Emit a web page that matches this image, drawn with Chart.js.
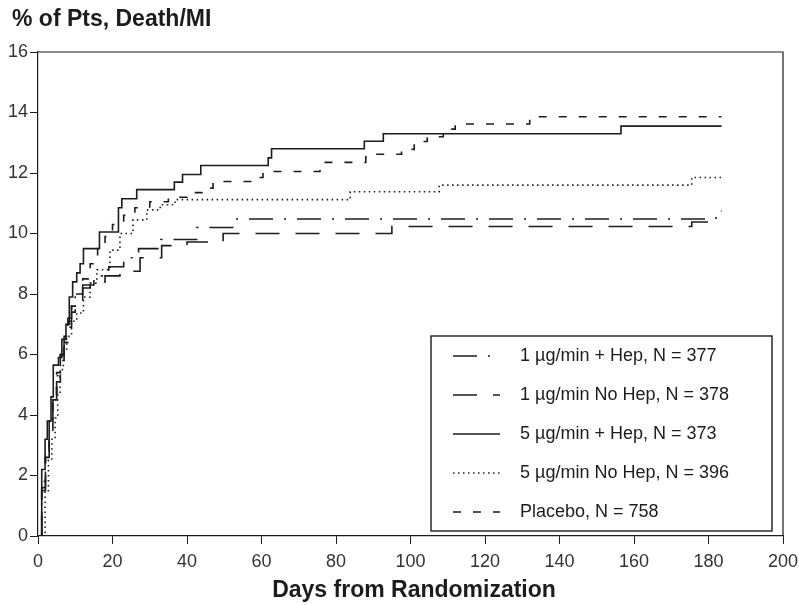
<!DOCTYPE html>
<html>
<head>
<meta charset="utf-8">
<script src="https://cdn.jsdelivr.net/npm/chart.js@4.4.1/dist/chart.umd.min.js"></script>
<style>
  html, body { margin: 0; padding: 0; background: #fff; }
  #chart { display: block; }
</style>
</head>
<body>
<canvas id="chart" width="799" height="605"></canvas>
<script>
// Kaplan-Meier style event curves, % of patients with death/MI by day
const xTicks = [0, 20, 40, 60, 80, 100, 120, 140, 160, 180, 200];
const yTicks = [0, 2, 4, 6, 8, 10, 12, 14, 16];

const labels = [
  '1 \u00b5g/min + Hep, N = 377',
  '1 \u00b5g/min No Hep, N = 378',
  '5 \u00b5g/min + Hep, N = 373',
  '5 \u00b5g/min No Hep, N = 396',
  'Placebo, N = 758',
];

const lowHepDays = [0, 1, 2, 3, 4, 5, 6, 7, 8, 9, 10, 12, 15, 19, 23, 27, 33, 42.6, 52.9, 182, 183.5];
const lowHepPct  = [0, 1.5, 2.8, 3.7, 4.5, 5.3, 6.0, 6.6, 7.2, 7.6, 8.0, 8.3, 8.6, 8.9, 9.2, 9.5, 9.8, 10.2, 10.48, 10.75, 10.75];

const lowNoHepDays = [0, 1, 2, 3, 4, 5, 6, 7, 8, 9, 10, 12, 14, 18, 22, 27.4, 33.2, 40, 49.7, 95, 175.5, 183.5];
const lowNoHepPct  = [0, 1.6, 2.6, 3.5, 4.3, 5.1, 5.8, 6.4, 6.9, 7.4, 7.8, 8.2, 8.4, 8.6, 8.75, 9.2, 9.6, 9.72, 10.0, 10.23, 10.38, 10.38];

const highHepDays = [0, 1, 1.9, 2.5, 3.5, 4.1, 5.5, 6.4, 7.5, 8.4, 9.3, 10.4, 11.3, 12.2, 16.5, 21.6, 22.5, 26.5, 36.6, 38.8, 43.7, 61.8, 62.7, 87.6, 92.7, 156.5, 183.5];
const highHepPct  = [0, 2.2, 3.2, 3.8, 4.6, 5.65, 5.9, 6.5, 7.0, 7.9, 8.4, 8.7, 9.0, 9.5, 10.05, 10.85, 11.15, 11.45, 11.7, 11.95, 12.25, 12.5, 12.8, 13.05, 13.3, 13.55, 13.55];

const highNoHepDays = [0, 1.9, 2.8, 3.7, 4.6, 5.3, 5.9, 6.8, 7.7, 9.0, 10.4, 12.2, 14, 15.8, 19.3, 22, 25.5, 29.2, 32.8, 36.8, 83.8, 107.7, 175.5, 183.5];
const highNoHepPct  = [0, 1.5, 2.5, 3.2, 3.9, 4.7, 5.5, 6.15, 6.6, 7.1, 7.37, 7.9, 8.36, 8.8, 9.45, 10.0, 10.45, 10.78, 10.95, 11.12, 11.38, 11.6, 11.85, 11.85];

const placeboDays = [0, 1, 2, 3, 4, 5, 6, 7, 8, 9, 10, 12, 14, 16, 18, 20, 23, 26, 30, 35, 40, 44, 47, 57.5, 60.4, 75.7, 88, 97.6, 101, 104.5, 108.8, 112, 132, 183.5];
const placeboPct  = [0, 1.8, 2.8, 3.8, 4.6, 5.4, 6.0, 6.6, 7.1, 7.6, 8.0, 8.5, 9.0, 9.5, 9.9, 10.3, 10.6, 10.85, 11.05, 11.2, 11.35, 11.5, 11.72, 11.85, 12.05, 12.35, 12.62, 12.78, 13.04, 13.2, 13.45, 13.62, 13.86, 13.86];

const FONT = "'Liberation Sans', Arial, Helvetica, sans-serif";
const INK = '#1c1c1c';

const toPoints = (days, pct) => days.map((d, i) => ({ x: d, y: pct[i] }));

const series = [
  { days: lowHepDays, pct: lowHepPct, dash: [24, 11, 2, 11] },
  { days: lowNoHepDays, pct: lowNoHepPct, dash: [24, 16] },
  { days: highHepDays, pct: highHepPct, dash: [] },
  { days: highNoHepDays, pct: highNoHepPct, dash: [1.5, 3.5] },
  { days: placeboDays, pct: placeboPct, dash: [8, 12] },
];

const datasets = series.map((s, i) => ({
  label: labels[i],
  data: toPoints(s.days, s.pct),
  borderColor: INK,
  borderWidth: 1.6,
  borderDash: s.dash,
  stepped: 'before',
  pointRadius: 0,
  fill: false,
}));

// top and right edges of the plot frame
const frame = {
  id: 'frame',
  afterDraw(chart) {
    const { ctx, chartArea: a } = chart;
    ctx.save();
    ctx.strokeStyle = INK;
    ctx.lineWidth = 1.2;
    ctx.beginPath();
    ctx.moveTo(a.left, a.top);
    ctx.lineTo(a.right, a.top);
    ctx.lineTo(a.right, a.bottom);
    ctx.stroke();
    ctx.restore();
  },
};

const titles = {
  id: 'titles',
  afterDraw(chart) {
    const { ctx } = chart;
    ctx.save();
    ctx.fillStyle = INK;
    ctx.font = `bold 23px ${FONT}`;
    ctx.textBaseline = 'middle';
    ctx.textAlign = 'left';
    ctx.fillText('% of Pts, Death/MI', 12, 20);
    ctx.textAlign = 'center';
    ctx.fillText('Days from Randomization', 414, 591);
    ctx.restore();
  },
};

// legend box inside the plot, samples use each dataset's own dash
const boxLegend = {
  id: 'boxLegend',
  afterDatasetsDraw(chart) {
    const { ctx } = chart;
    const box = { x: 431, y: 336, w: 341, h: 195 };
    ctx.save();
    ctx.fillStyle = '#fff';
    ctx.fillRect(box.x, box.y, box.w, box.h);
    ctx.strokeStyle = INK;
    ctx.lineWidth = 1.4;
    ctx.strokeRect(box.x, box.y, box.w, box.h);
    ctx.font = `18px ${FONT}`;
    ctx.textBaseline = 'middle';
    ctx.textAlign = 'left';
    chart.data.datasets.forEach((ds, i) => {
      const y = box.y + 20 + i * 39;
      ctx.beginPath();
      ctx.setLineDash(ds.borderDash);
      ctx.lineWidth = ds.borderWidth;
      ctx.strokeStyle = ds.borderColor;
      ctx.moveTo(453, y);
      ctx.lineTo(500, y);
      ctx.stroke();
      ctx.setLineDash([]);
      ctx.fillStyle = INK;
      ctx.fillText(ds.label, 520, y);
    });
    ctx.restore();
  },
};

new Chart(document.getElementById('chart'), {
  type: 'line',
  data: { datasets },
  options: {
    responsive: false,
    animation: false,
    devicePixelRatio: 1,
    layout: { padding: { top: 52, right: 16, left: 0, bottom: 0 } },
    plugins: {
      legend: { display: false },
      tooltip: { enabled: false },
    },
    scales: {
      x: {
        type: 'linear',
        min: 0,
        max: 200,
        afterBuildTicks: (scale) => { scale.ticks = xTicks.map((v) => ({ value: v })); },
        afterFit: (scale) => {
          scale.height = 69;
          scale.paddingLeft = 0;
          scale.paddingRight = 0;
        },
        ticks: { color: '#333', font: { family: FONT, size: 18 }, padding: 7 },
        grid: { drawOnChartArea: false, drawTicks: true, tickLength: 8, color: INK, lineWidth: 1 },
        border: { color: INK, width: 1.2 },
      },
      y: {
        min: 0,
        max: 16,
        afterBuildTicks: (scale) => { scale.ticks = yTicks.map((v) => ({ value: v })); },
        afterFit: (scale) => {
          scale.width = 38;
          scale.paddingTop = 0;
          scale.paddingBottom = 0;
        },
        ticks: { color: '#333', font: { family: FONT, size: 18 }, padding: 2 },
        grid: { drawOnChartArea: false, drawTicks: true, tickLength: 8, color: INK, lineWidth: 1 },
        border: { color: INK, width: 1.2 },
      },
    },
  },
  plugins: [frame, titles, boxLegend],
});
</script>
</body>
</html>
